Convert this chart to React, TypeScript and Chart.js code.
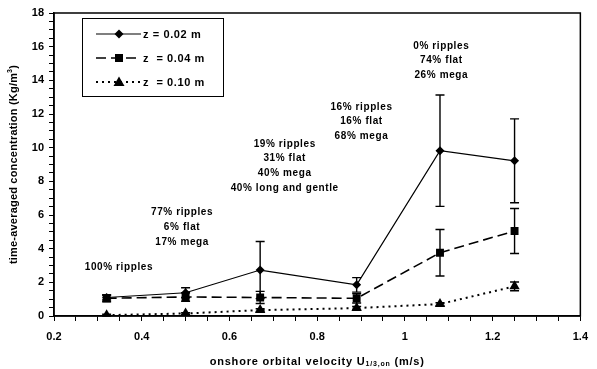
import React, { useEffect, useRef } from 'react';
import { Chart, registerables } from 'chart.js';

Chart.register(...registerables);

// ---- data ----
const velocity = [0.32, 0.5, 0.67, 0.89, 1.08, 1.25];
const conc002 = [1.1, 1.38, 2.73, 1.85, 9.82, 9.22];
const err002 = [0.15, 0.3, 1.7, 0.43, 3.31, 2.49];
const conc004 = [1.05, 1.13, 1.1, 1.05, 3.76, 5.05];
const err004 = [0.2, 0.25, 0.36, 0.28, 1.38, 1.34];
const conc010 = [0.05, 0.15, 0.35, 0.47, 0.71, 1.76];
const err010 = [0.05, 0.05, 0.08, 0.1, 0.08, 0.26];
const seriesLabels = ['z = 0.02 m', 'z  = 0.04 m', 'z  = 0.10 m'];

const xMajorTicks = [0.2, 0.4, 0.6, 0.8, 1, 1.2, 1.4];
const yMajorTicks = [0, 2, 4, 6, 8, 10, 12, 14, 16, 18];

const noteLines = [
  ['100% ripples'],
  ['77% ripples', '6% flat', '17% mega'],
  ['19% ripples', '31% flat', '40% mega', '40% long and gentle'],
  ['16% ripples', '16% flat', '68% mega'],
  ['0% ripples', '74% flat', '26% mega'],
];
const noteX = [0.348, 0.492, 0.726, 0.901, 1.083];
const noteY = [2.87, 6.14, 10.22, 12.42, 16.04];

const FONT = '"Liberation Sans", Arial, sans-serif';

const errors = [err002, err004, err010];

const framePlugin = {
  id: 'frame',
  beforeDatasetsDraw(chart: any) {
    const { ctx, chartArea } = chart;
    ctx.save();
    ctx.strokeStyle = '#000';
    ctx.lineWidth = 1.5;
    ctx.strokeRect(chartArea.left, chartArea.top, chartArea.right - chartArea.left, chartArea.bottom - chartArea.top);
    ctx.restore();
  },
  afterDatasetsDraw(chart: any) {
    const { ctx, chartArea } = chart;
    const xs = chart.scales.x;
    const ys = chart.scales.y;
    ctx.save();
    ctx.strokeStyle = '#000';
    ctx.lineWidth = 1.4;
    chart.data.datasets.forEach((ds: any, i: number) => {
      const errs = errors[i];
      ds.data.forEach((p: any, j: number) => {
        const e = errs[j];
        const px = xs.getPixelForValue(p.x);
        const top = ys.getPixelForValue(p.y + e);
        const bot = ys.getPixelForValue(Math.max(0, p.y - e));
        ctx.beginPath();
        ctx.moveTo(px, top);
        ctx.lineTo(px, bot);
        ctx.moveTo(px - 4.5, top);
        ctx.lineTo(px + 4.5, top);
        ctx.moveTo(px - 4.5, bot);
        ctx.lineTo(px + 4.5, bot);
        ctx.stroke();
      });
    });
    // annotations
    ctx.fillStyle = '#000';
    ctx.font = `bold 10px ${FONT}`;
    (ctx as any).letterSpacing = '0.6px';
    ctx.textAlign = 'center';
    ctx.textBaseline = 'middle';
    noteLines.forEach((lines, i) => {
      const cx = xs.getPixelForValue(noteX[i]);
      const cy = ys.getPixelForValue(noteY[i]);
      lines.forEach((t, k) => {
        ctx.fillText(t, cx, cy + k * 14.6);
      });
    });

    // legend
    const lx = chartArea.left + 28;
    const ly = chartArea.top + 5;
    ctx.lineWidth = 1;
    ctx.strokeRect(lx + 0.5, ly + 0.5, 141, 78);
    chart.data.datasets.forEach((ds: any, i: number) => {
      const rowY = ly + 16 + i * 24;
      ctx.save();
      ctx.strokeStyle = '#000';
      ctx.lineWidth = ds.borderWidth;
      ctx.setLineDash(ds.borderDash || []);
      ctx.beginPath();
      ctx.moveTo(lx + 14, rowY);
      ctx.lineTo(lx + 59, rowY);
      ctx.stroke();
      ctx.restore();
      const mx = lx + 37;
      ctx.fillStyle = '#000';
      ctx.beginPath();
      if (ds.pointStyle === 'rectRot') {
        ctx.moveTo(mx, rowY - 4.5); ctx.lineTo(mx + 4.5, rowY); ctx.lineTo(mx, rowY + 4.5); ctx.lineTo(mx - 4.5, rowY);
      } else if (ds.pointStyle === 'rect') {
        ctx.rect(mx - 4, rowY - 4, 8, 8);
      } else {
        ctx.moveTo(mx, rowY - 5.5); ctx.lineTo(mx + 5.5, rowY + 4); ctx.lineTo(mx - 5.5, rowY + 4);
      }
      ctx.closePath();
      ctx.fill();
      ctx.font = `bold 11px ${FONT}`;
      (ctx as any).letterSpacing = '0.6px';
      ctx.textAlign = 'left';
      ctx.textBaseline = 'middle';
      ctx.fillText(ds.label, lx + 61, rowY + 1);
    });

    // axis titles
    ctx.font = `bold 11px ${FONT}`;
    (ctx as any).letterSpacing = '0.8px';
    ctx.textBaseline = 'middle';
    const main = 'onshore orbital velocity U';
    const sub = '1/3,on';
    const tail = ' (m/s)';
    const w1 = ctx.measureText(main).width;
    ctx.font = `bold 7px ${FONT}`;
    const w2 = ctx.measureText(sub).width;
    ctx.font = `bold 11px ${FONT}`;
    const w3 = ctx.measureText(tail).width;
    const total = w1 + w2 + w3;
    let tx = (chartArea.left + chartArea.right) / 2 - total / 2;
    const ty = 361.5;
    ctx.textAlign = 'left';
    ctx.fillText(main, tx, ty);
    tx += w1;
    ctx.font = `bold 7px ${FONT}`;
    ctx.fillText(sub, tx, ty + 3);
    tx += w2;
    ctx.font = `bold 11px ${FONT}`;
    ctx.fillText(tail, tx, ty);

    // y title
    ctx.save();
    ctx.translate(14, (chartArea.top + chartArea.bottom) / 2);
    ctx.rotate(-Math.PI / 2);
    (ctx as any).letterSpacing = '0.2px';
    const ym = 'time-averaged concentration (Kg/m';
    const ys3 = '3';
    const yt = ')';
    ctx.font = `bold 11px ${FONT}`;
    const a = ctx.measureText(ym).width;
    ctx.font = `bold 7px ${FONT}`;
    const b = ctx.measureText(ys3).width;
    ctx.font = `bold 11px ${FONT}`;
    const c = ctx.measureText(yt).width;
    let sx = -(a + b + c) / 2;
    ctx.textAlign = 'left';
    ctx.fillText(ym, sx, 0);
    sx += a;
    ctx.font = `bold 7px ${FONT}`;
    ctx.fillText(ys3, sx, -4);
    sx += b;
    ctx.font = `bold 11px ${FONT}`;
    ctx.fillText(yt, sx, 0);
    ctx.restore();

    ctx.restore();
  },
};

function isMajor(v: number, list: number[]) {
  return list.some((m) => Math.abs(m - v) < 1e-6);
}

export default function App() {
  const ref = useRef<HTMLCanvasElement>(null);
  useEffect(() => {
    document.body.style.margin = '0';
    const mk = (ys: number[]) => velocity.map((x, i) => ({ x, y: ys[i] }));
    const chart = new Chart(ref.current as HTMLCanvasElement, {
      type: 'line',
      data: {
        datasets: [
          {
            label: seriesLabels[0],
            data: mk(conc002),
            borderColor: '#000',
            backgroundColor: '#000',
            borderWidth: 1.2,
            pointStyle: 'rectRot',
            pointRadius: 4.5,
            pointBorderWidth: 0,
            tension: 0,
          },
          {
            label: seriesLabels[1],
            data: mk(conc004),
            borderColor: '#000',
            backgroundColor: '#000',
            borderWidth: 1.6,
            borderDash: [10, 5],
            pointStyle: 'rect',
            pointRadius: 5.6,
            pointBorderWidth: 0,
            tension: 0,
          },
          {
            label: seriesLabels[2],
            data: mk(conc010),
            borderColor: '#000',
            backgroundColor: '#000',
            borderWidth: 2,
            borderDash: [2, 4],
            pointStyle: 'triangle',
            pointRadius: 6,
            pointBorderWidth: 0,
            tension: 0,
          },
        ] as any,
      },
      options: {
        responsive: false,
        animation: false,
        layout: { padding: { top: 13, right: 9, left: 0, bottom: 0 } },
        plugins: { legend: { display: false }, tooltip: { enabled: false } },
        scales: {
          x: {
            type: 'linear',
            min: 0.2,
            max: 1.4,
            afterFit: (s: any) => { s.height = 53; },
            ticks: {
              stepSize: 0.05,
              autoSkip: false,
              maxRotation: 0,
              padding: 9,
              color: '#000',
              font: { family: FONT, size: 11, weight: 'bold' },
              callback: (v: any) => {
                const r = Math.round(Number(v) * 100) / 100;
                return isMajor(r, xMajorTicks) ? String(r) : '';
              },
            },
            grid: { drawOnChartArea: false, drawTicks: true, tickLength: 5, color: '#000', lineWidth: 1 },
            border: { display: true, color: '#000', width: 1.5 },
          },
          y: {
            type: 'linear',
            min: 0,
            max: 18,
            afterFit: (s: any) => { s.width = 54; },
            ticks: {
              stepSize: 0.5,
              autoSkip: false,
              padding: 5,
              color: '#000',
              font: { family: FONT, size: 11, weight: 'bold' },
              callback: (v: any) => {
                const r = Math.round(Number(v) * 100) / 100;
                return isMajor(r, yMajorTicks) ? String(r) : '';
              },
            },
            grid: { drawOnChartArea: false, drawTicks: true, tickLength: 5, color: '#000', lineWidth: 1 },
            border: { display: true, color: '#000', width: 1.5 },
          },
        },
      } as any,
      plugins: [framePlugin],
    });
    return () => chart.destroy();
  }, []);
  return <canvas ref={ref} width={597} height={369} style={{ display: 'block' }} />;
}
